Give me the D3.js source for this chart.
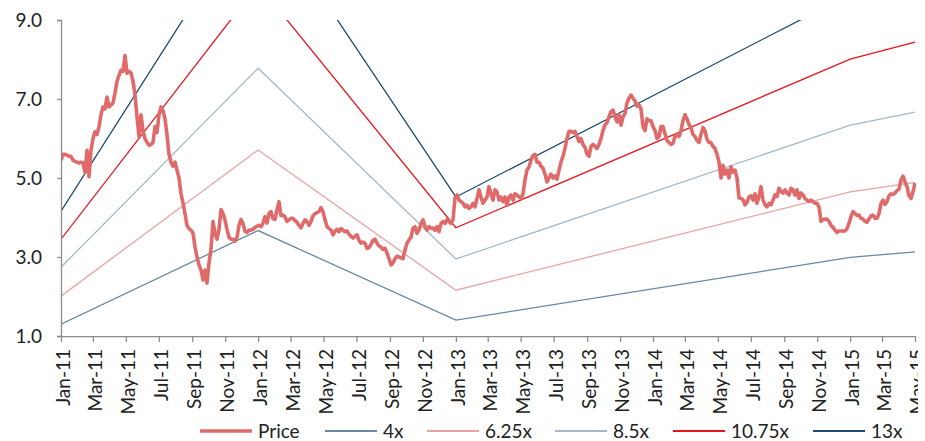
<!DOCTYPE html>
<html>
<head>
<meta charset="utf-8">
<script src="https://cdn.jsdelivr.net/npm/d3@7/dist/d3.min.js"></script>
<style>
  html, body { margin: 0; padding: 0; background: #fff; }
  svg { display: block; font-family: Lato, "Open Sans", sans-serif; }
</style>
</head>
<body>
<svg id="chart" width="925" height="441"></svg>
<script>
// ---------------- DATA ----------------
// Price series: evenly spaced closes from 2011-01-01 to 2015-05-01
const priceStart = "2011-01-01";
const priceEnd = "2015-05-01";
const price = [
  5.45,5.6,5.6,5.58,5.55,5.55,5.45,5.42,5.4,5.38,5.4,5.38,5.15,5.7,5.03,5.7,6.0,6.17,6.1,6.3,
  6.6,6.8,6.75,7.05,6.8,6.85,6.9,7.15,7.45,7.6,7.73,7.7,8.1,7.65,7.7,7.66,7.45,7.1,6.55,6.05,
  6.6,6.2,6.0,5.9,5.83,5.85,5.9,6.3,6.15,6.6,6.8,6.7,6.5,6.1,5.6,5.4,5.3,5.4,5.2,5.0,
  4.6,4.37,4.1,3.8,3.72,3.68,3.6,3.26,3.0,2.8,2.67,2.42,2.67,2.34,2.85,3.2,3.9,3.6,3.45,3.7,
  4.2,4.1,3.94,3.7,3.5,3.45,3.45,3.4,3.5,3.8,3.95,3.85,3.65,3.62,3.68,3.68,3.7,3.75,3.78,3.8,
  3.77,3.86,4.02,3.86,4.1,4.15,3.97,3.95,4.2,4.4,4.05,4.06,4.02,3.9,3.94,3.98,3.98,3.92,3.88,3.8,
  3.74,3.85,3.94,3.9,3.8,3.9,4.04,4.1,4.12,4.15,4.25,4.15,3.94,3.77,3.72,3.68,3.56,3.65,3.7,3.64,
  3.72,3.68,3.64,3.66,3.58,3.52,3.48,3.52,3.56,3.42,3.35,3.38,3.35,3.22,3.24,3.32,3.42,3.45,3.35,3.28,
  3.25,3.19,3.22,3.1,2.96,2.8,2.85,2.96,3.02,3.0,2.98,2.96,3.18,3.35,3.43,3.5,3.73,3.77,3.6,3.68,
  3.85,3.94,3.77,3.68,3.77,3.73,3.73,3.68,3.77,3.64,3.85,3.9,3.85,3.94,3.9,3.85,3.94,4.5,4.57,4.44,
  4.4,4.36,4.27,4.31,4.23,4.27,4.36,4.27,4.48,4.7,4.52,4.36,4.44,4.52,4.78,4.6,4.44,4.7,4.65,4.44,
  4.52,4.4,4.52,4.31,4.52,4.57,4.44,4.6,4.57,4.52,4.48,4.6,4.95,5.2,5.28,5.45,5.57,5.6,5.4,5.4,
  5.3,5.25,5.1,4.9,5.0,5.1,5.0,5.05,4.97,5.2,5.4,5.55,5.75,6.0,6.18,6.18,6.15,6.18,6.05,5.92,
  6.0,5.85,5.78,5.6,5.55,5.8,5.85,5.8,5.75,5.85,6.0,6.2,6.35,6.4,6.55,6.68,6.72,6.55,6.42,6.6,
  6.34,6.55,6.63,6.9,7.02,7.1,7.02,6.95,6.82,6.85,6.75,6.3,6.2,6.5,6.45,6.45,6.3,6.2,6.0,6.05,
  6.3,6.3,6.12,5.95,5.9,5.85,5.88,6.05,6.1,6.05,6.2,6.45,6.6,6.5,6.35,6.28,6.1,6.05,5.95,5.9,
  6.1,6.28,6.2,5.98,5.9,5.9,5.8,5.75,5.6,5.4,5.0,5.32,5.1,5.2,5.0,5.28,5.15,5.2,5.0,4.5,
  4.48,4.45,4.32,4.38,4.52,4.55,4.44,4.6,4.36,4.53,4.78,4.44,4.32,4.27,4.36,4.32,4.44,4.57,4.53,4.74,
  4.66,4.62,4.7,4.62,4.57,4.74,4.7,4.57,4.7,4.48,4.62,4.57,4.48,4.44,4.4,4.44,4.4,4.36,4.36,4.27,
  3.9,3.95,3.96,3.96,3.9,3.8,3.75,3.68,3.62,3.66,3.66,3.66,3.66,3.72,3.85,4.02,4.15,4.1,4.05,4.06,
  3.98,3.96,3.9,3.88,3.96,4.04,4.06,3.98,3.98,4.1,4.35,4.44,4.33,4.4,4.55,4.6,4.58,4.62,4.68,4.72,
  4.95,5.05,4.9,4.78,4.55,4.48,4.65,4.87
];

// P/E band lines (breakpoint dates and values)
const bandDates = ["2011-01-01", "2012-01-01", "2013-01-01", "2015-01-01", "2015-05-01"];
const band4x    = [1.30, 3.67, 1.40, 2.99, 3.13];
const band625x  = [2.01, 5.71, 2.16, 4.65, 4.89];
const band85x   = [2.74, 7.78, 2.95, 6.34, 6.67];
const band1075x = [3.45, 9.90, 3.74, 8.01, 8.44];
const band13x   = [4.16, 12.00, 4.52, 9.65, 10.20];

const yTicks = [1, 3, 5, 7, 9];
const seriesNames = ["Price", "4x", "6.25x", "8.5x", "10.75x", "13x"];

// ---------------- STYLE / LAYOUT ----------------
const colors = {
  "Price": "#E06A6A",
  "4x": "#6689A6",
  "6.25x": "#E8A3A3",
  "8.5x": "#A5B9C9",
  "10.75x": "#E8141B",
  "13x": "#1A4A72"
};
const widths = { "Price": 3.6, "4x": 1.3, "6.25x": 1.3, "8.5x": 1.3, "10.75x": 1.3, "13x": 1.3 };
const legendLineX = [200, 325, 427, 555, 673, 813];

const W = 925, H = 441;
const margin = { left: 61, right: 10, top: 20, bottom: 105 };
const plotW = 915 - margin.left;
const plotH = 336 - margin.top;
const fontSize = 19;
const axisColor = "#8c8c8c";

const parse = d3.timeParse("%Y-%m-%d");
const svg = d3.select("#chart");

const x = d3.scaleTime()
  .domain([parse("2011-01-01"), parse("2015-05-01")])
  .range([margin.left, margin.left + plotW]);
const y = d3.scaleLinear().domain([1, 9]).range([margin.top + plotH, margin.top]);

const defs = svg.append("defs");
defs.append("clipPath").attr("id", "plotclip")
  .append("rect").attr("x", margin.left).attr("y", margin.top)
  .attr("width", plotW + 1).attr("height", plotH);
defs.append("clipPath").attr("id", "xlabclip")
  .append("rect").attr("x", 0).attr("y", 0).attr("width", 918).attr("height", H);

const plot = svg.append("g").attr("clip-path", "url(#plotclip)");

const line = d3.line().x(d => x(d[0])).y(d => y(d[1]));

const bandSeries = [
  ["4x", band4x], ["6.25x", band625x], ["8.5x", band85x], ["10.75x", band1075x], ["13x", band13x]
];
bandSeries.forEach(([name, vals]) => {
  const pts = bandDates.map((d, i) => [parse(d), vals[i]]);
  plot.append("path").datum(pts)
    .attr("fill", "none").attr("stroke", colors[name]).attr("stroke-width", widths[name])
    .attr("d", line);
});

// price
const t0 = parse(priceStart).getTime(), t1 = parse(priceEnd).getTime();
const idx = d3.scaleLinear().domain([0, price.length - 1]).range([t0, t1]);
const pricePts = price.map((v, i) => [new Date(idx(i)), v]);
plot.append("path").datum(pricePts)
  .attr("fill", "none").attr("stroke", colors["Price"]).attr("stroke-width", widths["Price"])
  .attr("stroke-linejoin", "round")
  .attr("d", line);

// y axis
const yAxis = svg.append("g").attr("transform", `translate(${margin.left},0)`)
  .call(d3.axisLeft(y).tickValues(yTicks).tickFormat(d3.format(".1f")).tickSize(4).tickPadding(15));
yAxis.select(".domain").attr("stroke", axisColor).attr("stroke-width", 1.3);
yAxis.selectAll(".tick line").attr("stroke", axisColor).attr("stroke-width", 1.3);
yAxis.selectAll("text").attr("font-size", fontSize).attr("fill", "#222")
  .attr("font-family", "Lato, 'Open Sans', sans-serif");

// x axis
const xTicks = d3.timeMonth.every(2).range(parse("2011-01-01"), parse("2015-05-02"));
const xAxis = svg.append("g").attr("transform", `translate(0,${margin.top + plotH})`)
  .attr("clip-path", "url(#xlabclip)")
  .call(d3.axisBottom(x).tickValues(xTicks).tickFormat(d3.timeFormat("%b-%y")).tickSize(6).tickSizeOuter(0));
xAxis.select(".domain").attr("stroke", axisColor).attr("stroke-width", 1.3);
xAxis.selectAll(".tick line").attr("stroke", axisColor).attr("stroke-width", 1.3);
xAxis.selectAll("text")
  .attr("font-size", fontSize).attr("fill", "#222")
  .attr("font-family", "Lato, 'Open Sans', sans-serif")
  .attr("text-anchor", "end")
  .attr("transform", "rotate(-90)")
  .attr("x", -13).attr("y", 2).attr("dy", "0.35em");

// legend
const legY = 431;
const leg = svg.append("g");
seriesNames.forEach((name, i) => {
  const lx = legendLineX[i];
  leg.append("line").attr("x1", lx).attr("x2", lx + 52).attr("y1", legY).attr("y2", legY)
    .attr("stroke", colors[name]).attr("stroke-width", name === "Price" ? 3.6 : 2);
  leg.append("text").attr("x", lx + 58).attr("y", legY).attr("dy", "0.35em")
    .attr("font-size", fontSize).attr("fill", "#222").text(name);
});
</script>
</body>
</html>
